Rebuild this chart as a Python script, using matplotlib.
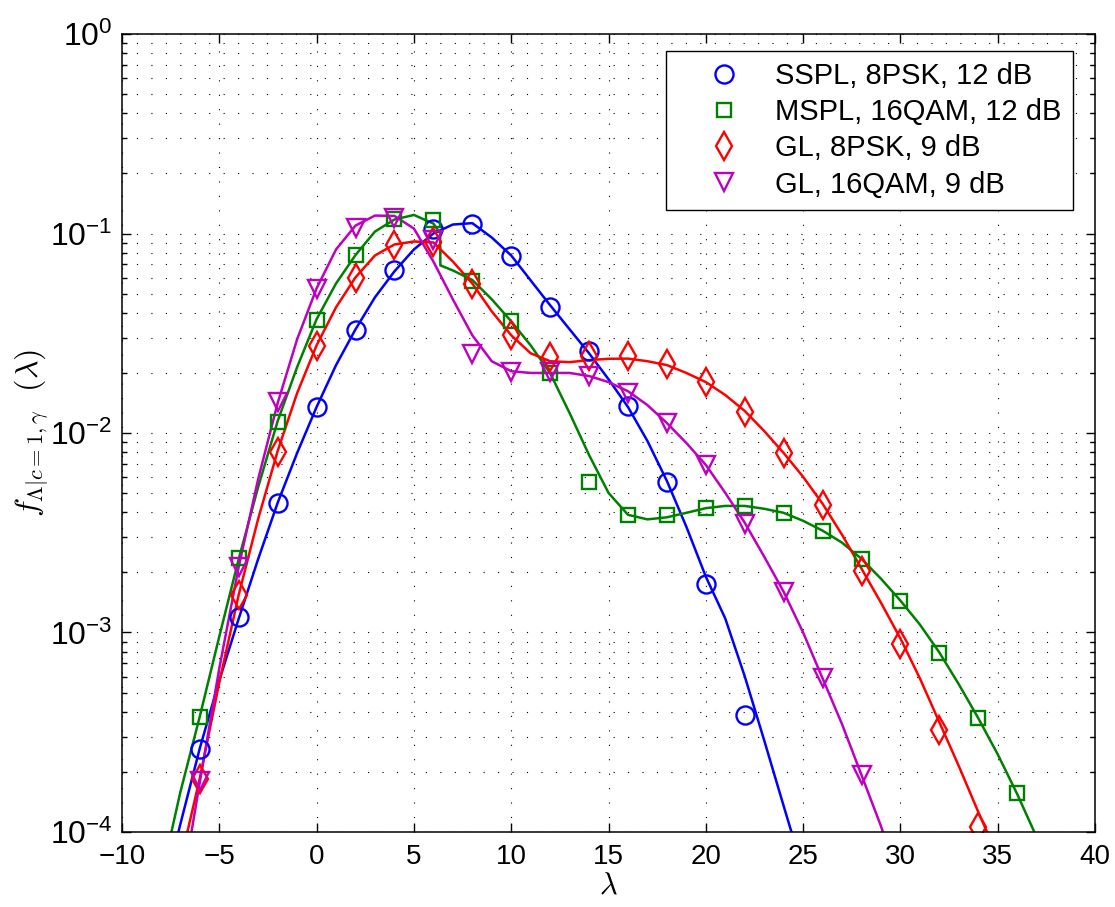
import matplotlib
matplotlib.use("Agg")
import matplotlib.pyplot as plt
from matplotlib.ticker import LogLocator, NullFormatter, MultipleLocator

plt.rcParams['font.family'] = ['Liberation Sans', 'DejaVu Sans']
plt.rcParams['mathtext.fontset'] = 'cm'

# ---- marker data (simulated points) ----
x_sspl = [-6, -4, -2, 0, 2, 4, 6, 8, 10, 12, 14, 16, 18, 20, 22]
y_sspl = [2.6e-4, 1.2e-3, 4.45e-3, 1.35e-2, 3.3e-2, 6.55e-2, 1.05e-1, 1.12e-1,
          7.7e-2, 4.28e-2, 2.58e-2, 1.36e-2, 5.65e-3, 1.75e-3, 3.85e-4]

x_mspl = [-6, -4, -2, 0, 2, 4, 6, 8, 10, 12, 14, 16, 18, 20, 22, 24, 26, 28,
          30, 32, 34, 36]
y_mspl = [3.75e-4, 2.35e-3, 1.14e-2, 3.7e-2, 7.8e-2, 1.18e-1, 1.17e-1, 5.8e-2,
          3.66e-2, 2.0e-2, 5.65e-3, 3.88e-3, 3.88e-3, 4.2e-3, 4.3e-3, 3.97e-3,
          3.24e-3, 2.33e-3, 1.44e-3, 7.9e-4, 3.72e-4, 1.56e-4]

x_gl8 = [-6, -4, -2, 0, 2, 4, 6, 8, 10, 12, 14, 16, 18, 20, 22, 24, 26, 28,
         30, 32, 34]
y_gl8 = [1.85e-4, 1.54e-3, 8.05e-3, 2.73e-2, 6.0e-2, 8.75e-2, 9.1e-2, 5.6e-2,
         3.1e-2, 2.4e-2, 2.42e-2, 2.42e-2, 2.22e-2, 1.81e-2, 1.28e-2, 7.9e-3,
         4.35e-3, 2.03e-3, 8.8e-4, 3.25e-4, 1.06e-4]

x_gl16 = [-6, -4, -2, 0, 2, 4, 6, 8, 10, 12, 14, 16, 18, 20, 22, 24, 26, 28]
y_gl16 = [1.8e-4, 2.14e-3, 1.43e-2, 5.3e-2, 1.06e-1, 1.2e-1, 9.3e-2, 2.5e-2,
          2.03e-2, 2.03e-2, 1.93e-2, 1.58e-2, 1.12e-2, 6.9e-3, 3.5e-3, 1.6e-3,
          5.9e-4, 1.92e-4]

# ---- analytical curves ----
cx_sspl = [-7.1, -7, -6, -5, -4, -3, -2, -1, 0, 1, 2, 3, 4, 5, 6, 7, 8, 9, 10,
           11, 12, 13, 14, 15, 16, 17, 18, 19, 20, 21, 22, 23, 24, 24.4]
cy_sspl = [1e-4, 1.096e-4, 2.63e-4, 5.75e-4, 1.175e-3, 2.34e-3, 4.47e-3, 7.94e-3,
           1.35e-2, 2.19e-2, 3.31e-2, 4.79e-2, 6.46e-2, 8.32e-2, 0.1, 0.1109,
           0.1127, 0.0955, 0.0776, 0.0582, 0.0437, 0.0331, 0.0251, 0.0186,
           0.0135, 9.12e-3, 5.75e-3, 3.39e-3, 1.905e-3, 1.175e-3, 6.03e-4,
           2.88e-4, 1.35e-4, 1e-4]

cx_mspl = [-7.46, -7, -6, -5, -4, -3, -2, -1, 0, 1, 2, 3, 4, 5, 6, 6.35, 6.36,
           7, 8, 9, 10, 11, 12, 13, 14, 15, 16, 17, 18, 19, 20, 21, 22, 23, 24,
           25, 26, 27, 28, 29, 30, 31, 32, 33, 34, 35, 36, 36.88]
cy_mspl = [1e-4, 1.585e-4, 3.8e-4, 9.55e-4, 2.34e-3, 5.37e-3, 1.148e-2, 2.14e-2,
           3.72e-2, 5.62e-2, 7.8e-2, 0.1023, 0.1175, 0.1239, 0.1122, 0.1, 0.0692,
           0.0653, 0.0585, 0.0468, 0.0363, 0.0275, 0.01995, 0.01259, 7.76e-3,
           5.01e-3, 3.89e-3, 3.69e-3, 3.78e-3, 3.98e-3, 4.2e-3, 4.31e-3, 4.31e-3,
           4.17e-3, 3.98e-3, 3.63e-3, 3.24e-3, 2.82e-3, 2.34e-3, 1.86e-3,
           1.445e-3, 1.096e-3, 7.94e-4, 5.5e-4, 3.72e-4, 2.45e-4, 1.55e-4, 1e-4]

cx_gl8 = [-6.64, -6, -5, -4, -3, -2, -1, 0, 1, 2, 3, 4, 5, 6, 7, 8, 9, 10, 11,
          12, 13, 14, 15, 16, 17, 18, 19, 20, 21, 22, 23, 24, 25, 26, 27, 28,
          29, 30, 31, 32, 33, 34, 34.45]
cy_gl8 = [1e-4, 1.862e-4, 5.62e-4, 1.549e-3, 3.72e-3, 8.13e-3, 1.585e-2, 2.75e-2,
          4.27e-2, 6.03e-2, 7.76e-2, 8.81e-2, 9.12e-2, 9.02e-2, 7.24e-2, 5.62e-2,
          4.07e-2, 3.09e-2, 2.51e-2, 2.29e-2, 2.265e-2, 2.32e-2, 2.355e-2,
          2.36e-2, 2.29e-2, 2.19e-2, 2.0e-2, 1.8e-2, 1.55e-2, 1.29e-2, 1.023e-2,
          7.94e-3, 6.03e-3, 4.42e-3, 3.09e-3, 2.09e-3, 1.41e-3, 9.33e-4, 5.89e-4,
          3.55e-4, 2.14e-4, 1.26e-4, 1e-4]

cx_gl16 = [-6.43, -6, -5, -4, -3, -2, -1, 0, 1, 2, 3, 4, 5, 6, 7, 8, 9, 10, 11,
           12, 13, 14, 15, 16, 17, 18, 19, 20, 21, 22, 23, 24, 25, 26, 27, 28,
           29, 29.1]
cy_gl16 = [1e-4, 1.778e-4, 6.61e-4, 2.14e-3, 5.89e-3, 1.413e-2, 2.95e-2, 5.31e-2,
           8.32e-2, 0.1096, 0.123, 0.1225, 0.1059, 7.24e-2, 4.68e-2, 3.09e-2,
           2.29e-2, 2.04e-2, 2.0e-2, 2.0e-2, 2.0e-2, 1.93e-2, 1.8e-2, 1.62e-2,
           1.38e-2, 1.122e-2, 8.91e-3, 6.92e-3, 5.01e-3, 3.55e-3, 2.4e-3, 1.6e-3,
           1.0e-3, 5.89e-4, 3.47e-4, 1.93e-4, 1.07e-4, 1e-4]

labels = ['SSPL, 8PSK, 12 dB', 'MSPL, 16QAM, 12 dB', 'GL, 8PSK, 9 dB', 'GL, 16QAM, 9 dB']

blue = (0, 0, 1)
green = (0, 0.5, 0)
red = (1, 0, 0)
magenta = (0.75, 0, 0.75)

fig = plt.figure(figsize=(11.15, 9.07), dpi=100)
ax = fig.add_axes([0.1094, 0.0827, 0.8727, 0.8798])

lw = 1.8
ax.plot(cx_sspl, cy_sspl, '-', color=blue, lw=lw)
ax.plot(cx_mspl, cy_mspl, '-', color=green, lw=lw)
ax.plot(cx_gl8, cy_gl8, '-', color=red, lw=lw)
ax.plot(cx_gl16, cy_gl16, '-', color=magenta, lw=lw)

mk = dict(linestyle='none', markerfacecolor='none', markeredgewidth=1.7)
ax.plot(x_sspl, y_sspl, marker='o', markersize=13, markeredgecolor=blue, label=labels[0], **mk)
ax.plot(x_mspl, y_mspl, marker='s', markersize=10.5, markeredgecolor=green, label=labels[1], **mk)
ax.plot(x_gl8, y_gl8, marker='d', markersize=14, markeredgecolor=red, label=labels[2], **mk)
ax.plot(x_gl16, y_gl16, marker='v', markersize=13, markeredgecolor=magenta, label=labels[3], **mk)

ax.set_yscale('log')
ax.set_xlim(-10, 40)
ax.set_ylim(1e-4, 1)
ax.xaxis.set_major_locator(MultipleLocator(5))
ax.yaxis.set_major_locator(LogLocator(base=10, numticks=10))
ax.yaxis.set_minor_locator(LogLocator(base=10, subs=range(2, 10), numticks=20))
ax.yaxis.set_minor_formatter(NullFormatter())

ax.tick_params(which='both', direction='in', top=True, right=True, width=1)
ax.tick_params(which='major', length=6.5)
ax.tick_params(which='minor', length=3.5)
ax.tick_params(axis='x', labelsize=20, pad=9)
ax.tick_params(axis='y', labelsize=23, pad=7)
for s in ax.spines.values():
    s.set_linewidth(1.1)

grid_style = dict(color='black', linestyle=(0, (1, 12)), linewidth=0.8)
ax.grid(True, which='major', axis='both', **grid_style)
ax.grid(True, which='minor', axis='y', **grid_style)

ax.set_xlabel(r'$\lambda$', fontsize=22, labelpad=0)
ax.set_ylabel(r'$f_{\Lambda|c=1,\gamma}\ \ (\lambda)$', fontsize=23, va='center')
ax.yaxis.set_label_coords(-0.093, 0.5)

leg = ax.legend(loc='upper right', bbox_to_anchor=(0.977, 0.979), borderaxespad=0,
                fontsize=21, fancybox=False, edgecolor='black', framealpha=1,
                labelspacing=0.28, handlelength=3.2, handletextpad=0.15,
                borderpad=0.39)
leg.get_frame().set_linewidth(1.0)

fig.savefig('out.png', dpi=100)
